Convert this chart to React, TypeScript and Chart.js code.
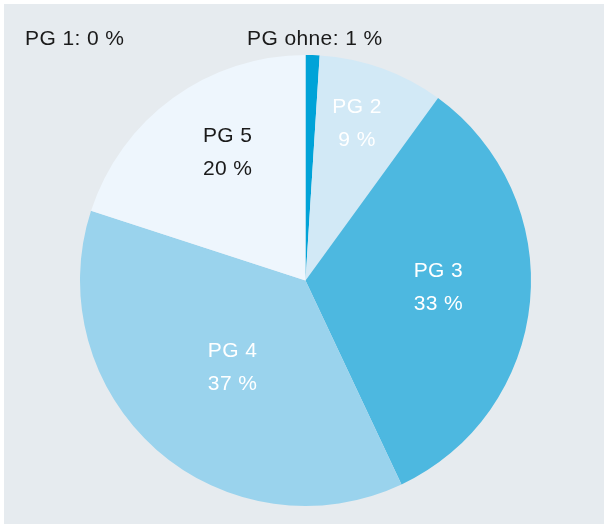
import React, { useEffect, useRef } from "react";
import { Chart, registerables } from "chart.js";

Chart.register(...registerables);

const categories = ["PG ohne", "PG 2", "PG 3", "PG 4", "PG 5"];
const values = [1, 9, 33, 37, 20];
const sliceLabels = [null, ["PG 2", "9 %"], ["PG 3", "33 %"], ["PG 4", "37 %"], ["PG 5", "20 %"]];
const outsideLabels = ["PG 1: 0 %", "PG ohne: 1 %"];

const colors = ["#00a3d8", "#d2e9f6", "#4db8e0", "#9ad3ed", "#eef6fd"];
const labelColors = ["#ffffff", "#ffffff", "#ffffff", "#ffffff", "#1a1a1a"];
// label placement: [angle in degrees from 12 o'clock, radius fraction]
const labelPlace: ([number, number] | null)[] = [null, [18, 0.74], [92.6, 0.59], [220.3, 0.5], [329, 0.67]];

const FONT = '"Liberation Sans", Arial, sans-serif';

const labelPlugin = {
  id: "labelPlugin",
  afterDatasetsDraw(chart: any) {
    const ctx = chart.ctx;
    const meta = chart.getDatasetMeta(0);
    const arc0 = meta.data[0];
    const cx = arc0.x;
    const cy = arc0.y;
    const r = arc0.outerRadius;
    ctx.save();
    ctx.font = `21px ${FONT}`;
    ctx.textAlign = "center";
    ctx.textBaseline = "middle";
    try { ctx.letterSpacing = "0.4px"; } catch (e) {}
    sliceLabels.forEach((lines, i) => {
      const p = labelPlace[i];
      if (!lines || !p) return;
      const a = (p[0] * Math.PI) / 180;
      const x = cx + Math.sin(a) * r * p[1];
      const y = cy - Math.cos(a) * r * p[1] + 1.5;
      ctx.fillStyle = labelColors[i];
      ctx.fillText(lines[0], x, y - 16.5);
      ctx.fillText(lines[1], x, y + 16.5);
    });
    ctx.fillStyle = "#1a1a1a";
    ctx.textAlign = "left";
    ctx.fillText(outsideLabels[0], 21, 35);
    ctx.fillText(outsideLabels[1], 243, 35);
    ctx.restore();
  },
};

export default function App() {
  const ref = useRef<HTMLCanvasElement>(null);
  useEffect(() => {
    document.body.style.margin = "0";
    const chart = new Chart(ref.current!, {
      type: "pie",
      data: {
        labels: categories,
        datasets: [
          {
            data: values,
            backgroundColor: colors,
            borderWidth: 0,
          },
        ],
      },
      options: {
        animation: false,
        responsive: false,
        maintainAspectRatio: false,
        layout: { padding: { left: 76, top: 51, right: 73, bottom: 18 } },
        plugins: {
          legend: { display: false },
          tooltip: { enabled: false },
          title: { display: false },
        },
      },
      plugins: [labelPlugin],
    });
    return () => chart.destroy();
  }, []);
  return (
    <div style={{ position: "absolute", left: 4, top: 4, width: 600, height: 520, background: "#e6ebef" }}>
      <canvas ref={ref} width={600} height={520} style={{ display: "block" }} />
    </div>
  );
}
